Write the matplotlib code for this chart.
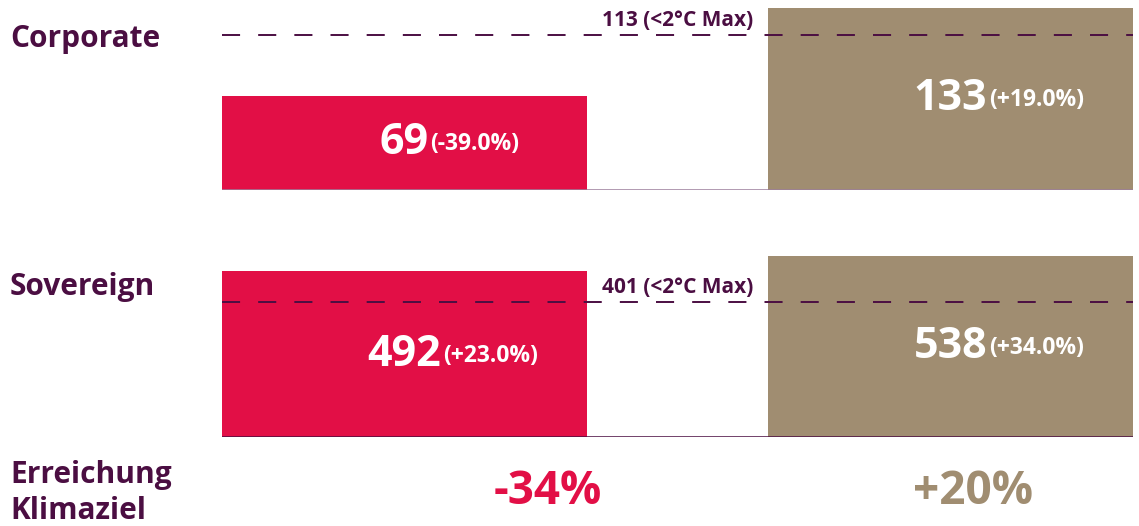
import matplotlib
matplotlib.use("Agg")
import matplotlib.pyplot as plt

plt.rcParams['font.family'] = ['Open Sans', 'DejaVu Sans']
plt.rcParams['font.weight'] = 'bold'

# data
panels = ["Corporate", "Sovereign"]
values = [[69, 133], [492, 538]]
changes = ["(-39.0%)", "(+19.0%)"], ["(+23.0%)", "(+34.0%)"]
limits = [113, 401]
limit_label = "(<2°C Max)"
target_title = ["Erreichung", "Klimaziel"]
target_values = ["-34%", "+20%"]

RED = "#E20F46"
TAN = "#A08D71"
PURPLE = "#4B0E42"
BASE_COLORS = ["#9C7E9C", "#4B0E42"]

W, H = 1139, 526
fig = plt.figure(figsize=(W / 100, H / 100), dpi=100)

bar_w = 365 / 546
ax_left, ax_right = 222, 1133
tops = [8, 256]
bottoms = [190, 437]

for i, name in enumerate(panels):
    ax = fig.add_axes([ax_left / W, 1 - bottoms[i] / H,
                       (ax_right - ax_left) / W, (bottoms[i] - tops[i]) / H])
    vals = values[i]
    ax.bar([0, 1], vals, width=bar_w, color=[RED, TAN], zorder=2)
    ax.set_xlim(-bar_w / 2, 1 + bar_w / 2)
    ax.set_ylim(0, max(vals))
    ax.axis("off")
    ax.axhline(0, color=BASE_COLORS[i], lw=1.1, zorder=3)

    # target line
    ax.axhline(limits[i], color=PURPLE, lw=1.4, linestyle=(0, (9.3, 9.3)), zorder=4)
    ax.annotate(f"{limits[i]} {limit_label}", xy=(0.5, limits[i]), xytext=(0, 3),
                textcoords="offset points", ha="center", va="bottom",
                fontsize=15, color=PURPLE)

    # value labels
    for j, v in enumerate(vals):
        t = ax.text(j, v / 2, str(v), ha="center", va="center", fontsize=31,
                    color="white", zorder=5)
        ax.annotate(changes[i][j], xy=(1, 0.5), xycoords=t, xytext=(1, -1),
                    textcoords="offset points", ha="left", va="center",
                    fontsize=16.5, color="white", zorder=5)

    # panel label
    fig.text(10 / W, 1 - [47, 295][i] / H, name, fontsize=21.5, color=PURPLE,
             ha="left", va="baseline")

fig.text(10 / W, 1 - 483 / H, target_title[0], fontsize=21.5, color=PURPLE,
         ha="left", va="baseline")
fig.text(10 / W, 1 - 519 / H, target_title[1], fontsize=21.5, color=PURPLE,
         ha="left", va="baseline")

fig.text(548 / W, 1 - 492 / H, target_values[0], fontsize=33, color=RED,
         ha="center", va="center")
fig.text(973 / W, 1 - 492 / H, target_values[1], fontsize=33, color=TAN,
         ha="center", va="center")

fig.savefig("out.png", dpi=100)
